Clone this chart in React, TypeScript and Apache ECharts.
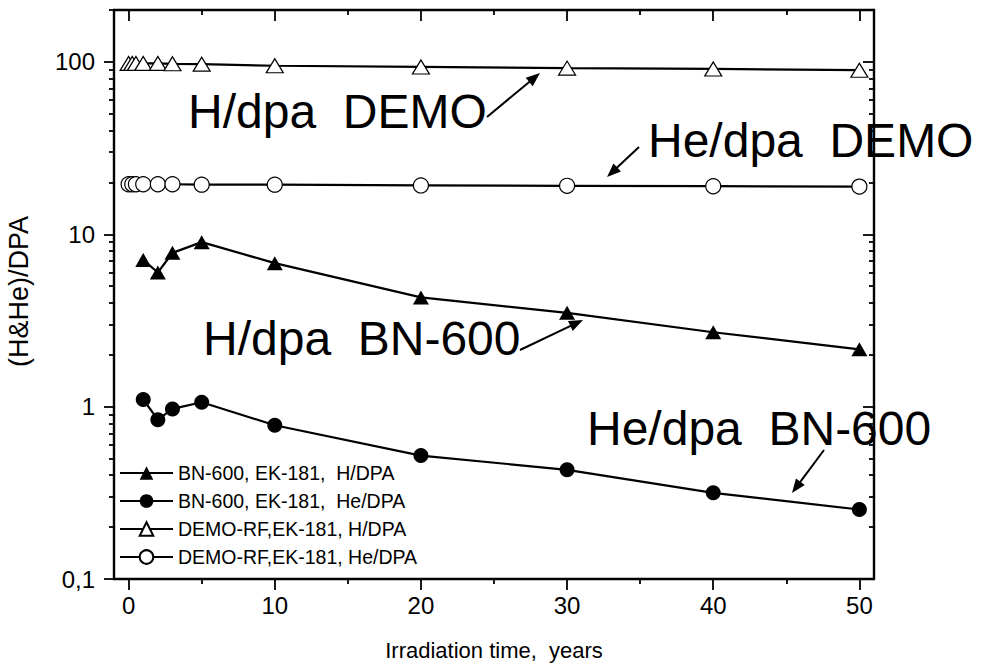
import React, { useEffect, useRef } from 'react';
import * as echarts from 'echarts';

// ---------------- data ----------------
const xDemo = [0, 0.25, 0.5, 1, 2, 3, 5, 10, 20, 30, 40, 50];
const demoH = [98, 98, 98, 98, 98, 97.5, 97, 95, 93.5, 92, 91, 89.5];
const demoHe = [19.5, 19.5, 19.5, 19.5, 19.5, 19.5, 19.4, 19.4, 19.2, 19.1, 19.0, 18.9];
const xBN = [1, 2, 3, 5, 10, 20, 30, 40, 50];
const bnH = [7.1, 6.0, 7.8, 9.0, 6.8, 4.3, 3.5, 2.7, 2.15];
const bnHe = [1.1, 0.84, 0.97, 1.06, 0.78, 0.52, 0.43, 0.316, 0.253];

const xMajorTicks = [0, 10, 20, 30, 40, 50];
const xMinorTicks = [5, 15, 25, 35, 45];
const yMajorTicks = [0.1, 1, 10, 100];
const yMajorLabels = ['0,1', '1', '10', '100'];
const yMinorTicks = [0.2, 0.3, 0.4, 0.5, 0.6, 0.7, 0.8, 0.9, 2, 3, 4, 5, 6, 7, 8, 9, 20, 30, 40, 50, 60, 70, 80, 90, 200];
const seriesNames = [
  'BN-600, EK-181,  H/DPA',
  'BN-600, EK-181,  He/DPA',
  'DEMO-RF,EK-181, H/DPA',
  'DEMO-RF,EK-181, He/DPA',
];
const annotationTexts = ['H/dpa  DEMO', 'He/dpa  DEMO', 'H/dpa  BN-600', 'He/dpa  BN-600'];

const X_MIN = -1;
const X_MAX = 51;
const Y_MIN = 0.1;
const Y_MAX = 200;

const FONT = '"Liberation Sans", Arial, Helvetica, sans-serif';

function zip(xs: number[], ys: number[]) {
  return xs.map((x, i) => [x, ys[i]]);
}

function arrow(x1: number, y1: number, x2: number, y2: number) {
  const dx = x2 - x1;
  const dy = y2 - y1;
  const L = Math.hypot(dx, dy);
  const ux = dx / L;
  const uy = dy / L;
  const hl = 14;
  const hw = 5.5;
  const bx = x2 - ux * hl;
  const by = y2 - uy * hl;
  return [
    {
      type: 'line',
      z: 100,
      silent: true,
      shape: { x1, y1, x2: bx + ux * 2, y2: by + uy * 2 },
      style: { stroke: '#000', lineWidth: 2 },
    },
    {
      type: 'polygon',
      z: 100,
      silent: true,
      shape: {
        points: [
          [x2, y2],
          [bx - uy * hw, by + ux * hw],
          [bx + uy * hw, by - ux * hw],
        ],
      },
      style: { fill: '#000' },
    },
  ];
}

function bigText(text: string, x: number, baseline: number) {
  return {
    type: 'text',
    z: 100,
    silent: true,
    x,
    y: baseline - 16.6,
    style: {
      text,
      font: `48px ${FONT}`,
      fill: '#000',
      align: 'left',
      verticalAlign: 'middle',
    },
  };
}

const log10 = (v: number) => Math.log10(v);

export default function App() {
  const ref = useRef<HTMLDivElement>(null);

  useEffect(() => {
    if (!ref.current) return;
    const chart = echarts.init(ref.current, undefined, { renderer: 'svg' });

    const axisLine = { show: true, onZero: false, lineStyle: { color: '#000', width: 2.4 } };
    const noLine = { show: false, onZero: false };
    const tickStyle = { color: '#000', width: 1.8 };

    const xBase = { type: 'value', min: X_MIN, max: X_MAX, splitLine: { show: false } };
    const yAux = { type: 'value', min: log10(Y_MIN), max: log10(Y_MAX), splitLine: { show: false } };

    const option: any = {
      animation: false,
      backgroundColor: '#fff',
      grid: { left: 114, right: 116, top: 10, bottom: 89, containLabel: false, outerBoundsMode: 'none' },
      xAxis: [
        {
          ...xBase,
          position: 'bottom',
          axisLine,
          axisTick: { show: true, inside: false, length: 11, customValues: xMajorTicks, lineStyle: tickStyle },
          axisLabel: {
            show: true,
            customValues: xMajorTicks,
            color: '#000',
            fontSize: 24,
            fontFamily: FONT,
            margin: 14,
          },
          name: 'Irradiation time,  years',
          nameLocation: 'middle',
          nameGap: 60,
          nameTextStyle: { color: '#000', fontSize: 22, fontFamily: FONT },
        },
        {
          ...xBase,
          position: 'bottom',
          axisLine: noLine,
          axisTick: { show: true, inside: false, length: 5, customValues: xMinorTicks, lineStyle: tickStyle },
          axisLabel: { show: false },
        },
        {
          ...xBase,
          position: 'top',
          axisLine,
          axisTick: { show: true, inside: true, length: 11, customValues: xMajorTicks, lineStyle: tickStyle },
          axisLabel: { show: false },
        },
        {
          ...xBase,
          position: 'top',
          axisLine: noLine,
          axisTick: { show: true, inside: true, length: 5, customValues: xMinorTicks, lineStyle: tickStyle },
          axisLabel: { show: false },
        },
      ],
      yAxis: [
        {
          type: 'log',
          logBase: 10,
          min: Y_MIN,
          max: Y_MAX,
          position: 'left',
          axisLine: noLine,
          axisTick: { show: false },
          axisLabel: { show: false },
          splitLine: { show: false },
        },
        {
          ...yAux,
          position: 'left',
          axisLine,
          axisTick: { show: true, inside: false, length: 10, customValues: yMajorTicks.map(log10), lineStyle: tickStyle },
          axisLabel: {
            show: true,
            customValues: yMajorTicks.map(log10),
            formatter: (v: number) => {
              let best = 0;
              yMajorTicks.forEach((t, i) => {
                if (Math.abs(log10(t) - v) < Math.abs(log10(yMajorTicks[best]) - v)) best = i;
              });
              return yMajorLabels[best];
            },
            color: '#000',
            fontSize: 24,
            fontFamily: FONT,
            margin: 19,
          },
          name: '(H&He)/DPA',
          nameLocation: 'middle',
          nameGap: 82,
          nameRotate: 90,
          nameTextStyle: { color: '#000', fontSize: 27, fontFamily: FONT, padding: [0, 0, 0, 6] },
        },
        {
          ...yAux,
          position: 'left',
          axisLine: noLine,
          axisTick: { show: true, inside: false, length: 5, customValues: yMinorTicks.map(log10), lineStyle: tickStyle },
          axisLabel: { show: false },
        },
        {
          ...yAux,
          position: 'right',
          axisLine,
          axisTick: { show: true, inside: true, length: 11, customValues: yMajorTicks.map(log10), lineStyle: tickStyle },
          axisLabel: { show: false },
        },
        {
          ...yAux,
          position: 'right',
          axisLine: noLine,
          axisTick: { show: true, inside: true, length: 5, customValues: yMinorTicks.map(log10), lineStyle: tickStyle },
          axisLabel: { show: false },
        },
      ],
      legend: {
        show: true,
        orient: 'vertical',
        left: 119,
        top: 463,
        padding: 0,
        itemWidth: 53,
        itemHeight: 17,
        itemGap: 8,
        selectedMode: false,
        data: seriesNames,
        textStyle: { color: '#000', fontSize: 19.5, fontFamily: FONT, lineHeight: 20 },
      },
      series: [
        {
          name: seriesNames[0],
          type: 'line',
          xAxisIndex: 0,
          yAxisIndex: 0,
          data: zip(xBN, bnH),
          symbol: 'triangle',
          symbolSize: [16, 14],
          showAllSymbol: true,
          lineStyle: { color: '#000', width: 2.2 },
          itemStyle: { color: '#000', borderColor: '#000', borderWidth: 0 },
          z: 3,
        },
        {
          name: seriesNames[1],
          type: 'line',
          xAxisIndex: 0,
          yAxisIndex: 0,
          data: zip(xBN, bnHe),
          symbol: 'circle',
          symbolSize: 15,
          showAllSymbol: true,
          lineStyle: { color: '#000', width: 2.2 },
          itemStyle: { color: '#000', borderColor: '#000', borderWidth: 0 },
          z: 3,
        },
        {
          name: seriesNames[2],
          type: 'line',
          xAxisIndex: 0,
          yAxisIndex: 0,
          data: zip(xDemo, demoH),
          symbol: 'triangle',
          symbolSize: [17, 14],
          showAllSymbol: true,
          lineStyle: { color: '#000', width: 2.2 },
          itemStyle: { color: '#fff', borderColor: '#000', borderWidth: 1.2 },
          z: 3,
        },
        {
          name: seriesNames[3],
          type: 'line',
          xAxisIndex: 0,
          yAxisIndex: 0,
          data: zip(xDemo, demoHe),
          symbol: 'circle',
          symbolSize: 15,
          showAllSymbol: true,
          lineStyle: { color: '#000', width: 2.2 },
          itemStyle: { color: '#fff', borderColor: '#000', borderWidth: 1.2 },
          z: 3,
        },
      ],
      graphic: [
        bigText(annotationTexts[0], 188, 128),
        ...arrow(487, 117, 540, 73),
        bigText(annotationTexts[1], 648, 157),
        ...arrow(639, 147, 607, 177),
        bigText(annotationTexts[2], 203, 355),
        ...arrow(520, 350, 583, 320),
        bigText(annotationTexts[3], 587, 445),
        ...arrow(824, 450, 792, 493),
      ],
    };

    chart.setOption(option);
    return () => {
      chart.dispose();
    };
  }, []);

  return (
    <div
      ref={ref}
      style={{ position: 'absolute', left: 0, top: 0, width: 990, height: 668, background: '#fff' }}
    />
  );
}
